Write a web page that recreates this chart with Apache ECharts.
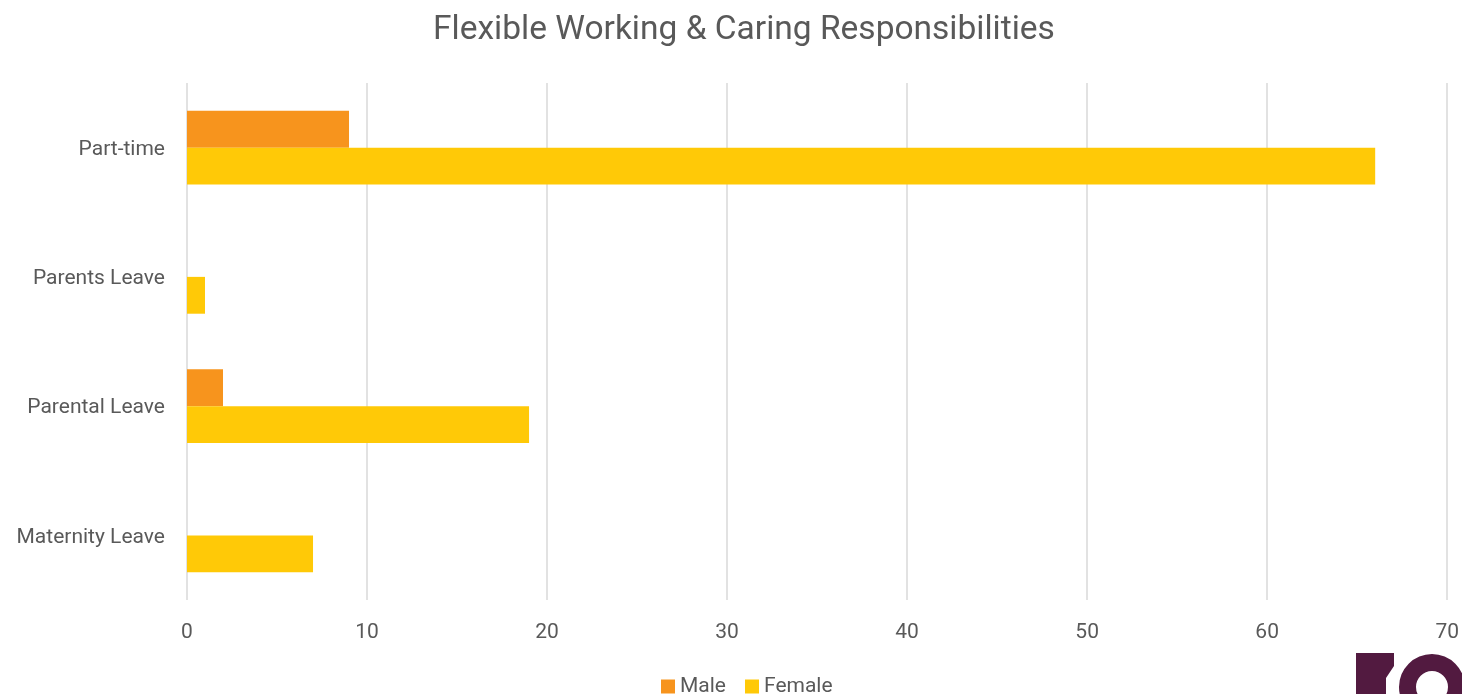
<!DOCTYPE html>
<html>
<head>
<meta charset="utf-8">
<script src="https://cdn.jsdelivr.net/npm/echarts@6/dist/echarts.min.js"></script>
<style>
html,body{margin:0;padding:0;background:#fff;}
#chart{width:1462px;height:694px;}
</style>
</head>
<body>
<div id="chart"></div>
<script>
var categories = ['Part-time', 'Parents Leave', 'Parental Leave', 'Maternity Leave'];
var maleValues = [9, 0, 2, 0];
var femaleValues = [66, 1, 19, 7];
var xTicks = [0, 10, 20, 30, 40, 50, 60, 70];

var chart = echarts.init(document.getElementById('chart'));
var textColor = '#595959';
var fontFam = 'Roboto, "Open Sans", sans-serif';
chart.setOption({
  animation: false,
  backgroundColor: '#ffffff',
  title: {
    text: 'Flexible Working & Caring Responsibilities',
    left: 428,
    top: 9,
    textStyle: { fontFamily: fontFam, fontSize: 33.5, fontWeight: 'normal', color: textColor }
  },
  legend: {
    data: ['Male', 'Female'],
    top: 671,
    left: 656,
    itemWidth: 14,
    itemHeight: 14,
    itemGap: 19,
    icon: 'rect',
    textStyle: { fontFamily: fontFam, fontSize: 21, color: textColor }
  },
  grid: { left: 187, right: 14, top: 83, bottom: 94, containLabel: false },
  xAxis: {
    type: 'value',
    min: xTicks[0],
    max: xTicks[xTicks.length - 1],
    interval: 10,
    axisLine: { show: false },
    axisTick: { show: false },
    axisLabel: { fontFamily: fontFam, fontSize: 21, color: textColor, margin: 22 },
    splitLine: { show: true, lineStyle: { color: '#d9d9d9', width: 1.5 } }
  },
  yAxis: {
    type: 'category',
    data: categories,
    inverse: true,
    axisLine: { show: false },
    axisTick: { show: false },
    axisLabel: {
      fontFamily: fontFam, fontSize: 21, color: textColor, margin: 22,
      formatter: function (v) { return '{a|' + v + '}'; },
      rich: { a: { fontFamily: fontFam, fontSize: 21, color: textColor, padding: [4, 0, 0, 0] } }
    },
    splitLine: { show: false }
  },
  series: [
    {
      name: 'Male',
      type: 'bar',
      data: maleValues,
      barGap: '0%',
      barCategoryGap: '43%',
      itemStyle: { color: '#F7941D' }
    },
    {
      name: 'Female',
      type: 'bar',
      data: femaleValues,
      barGap: '0%',
      barCategoryGap: '43%',
      itemStyle: { color: '#FFC907' }
    }
  ],
  graphic: [
    {
      type: 'polygon',
      shape: { points: [[1356, 653], [1394, 653], [1394, 666], [1386, 678], [1386, 694], [1356, 694]] },
      style: { fill: '#521a40' },
      silent: true
    },
    {
      type: 'ring',
      shape: { cx: 1432, cy: 687, r: 33, r0: 16 },
      style: { fill: '#521a40' },
      silent: true
    }
  ]
});
</script>
</body>
</html>
